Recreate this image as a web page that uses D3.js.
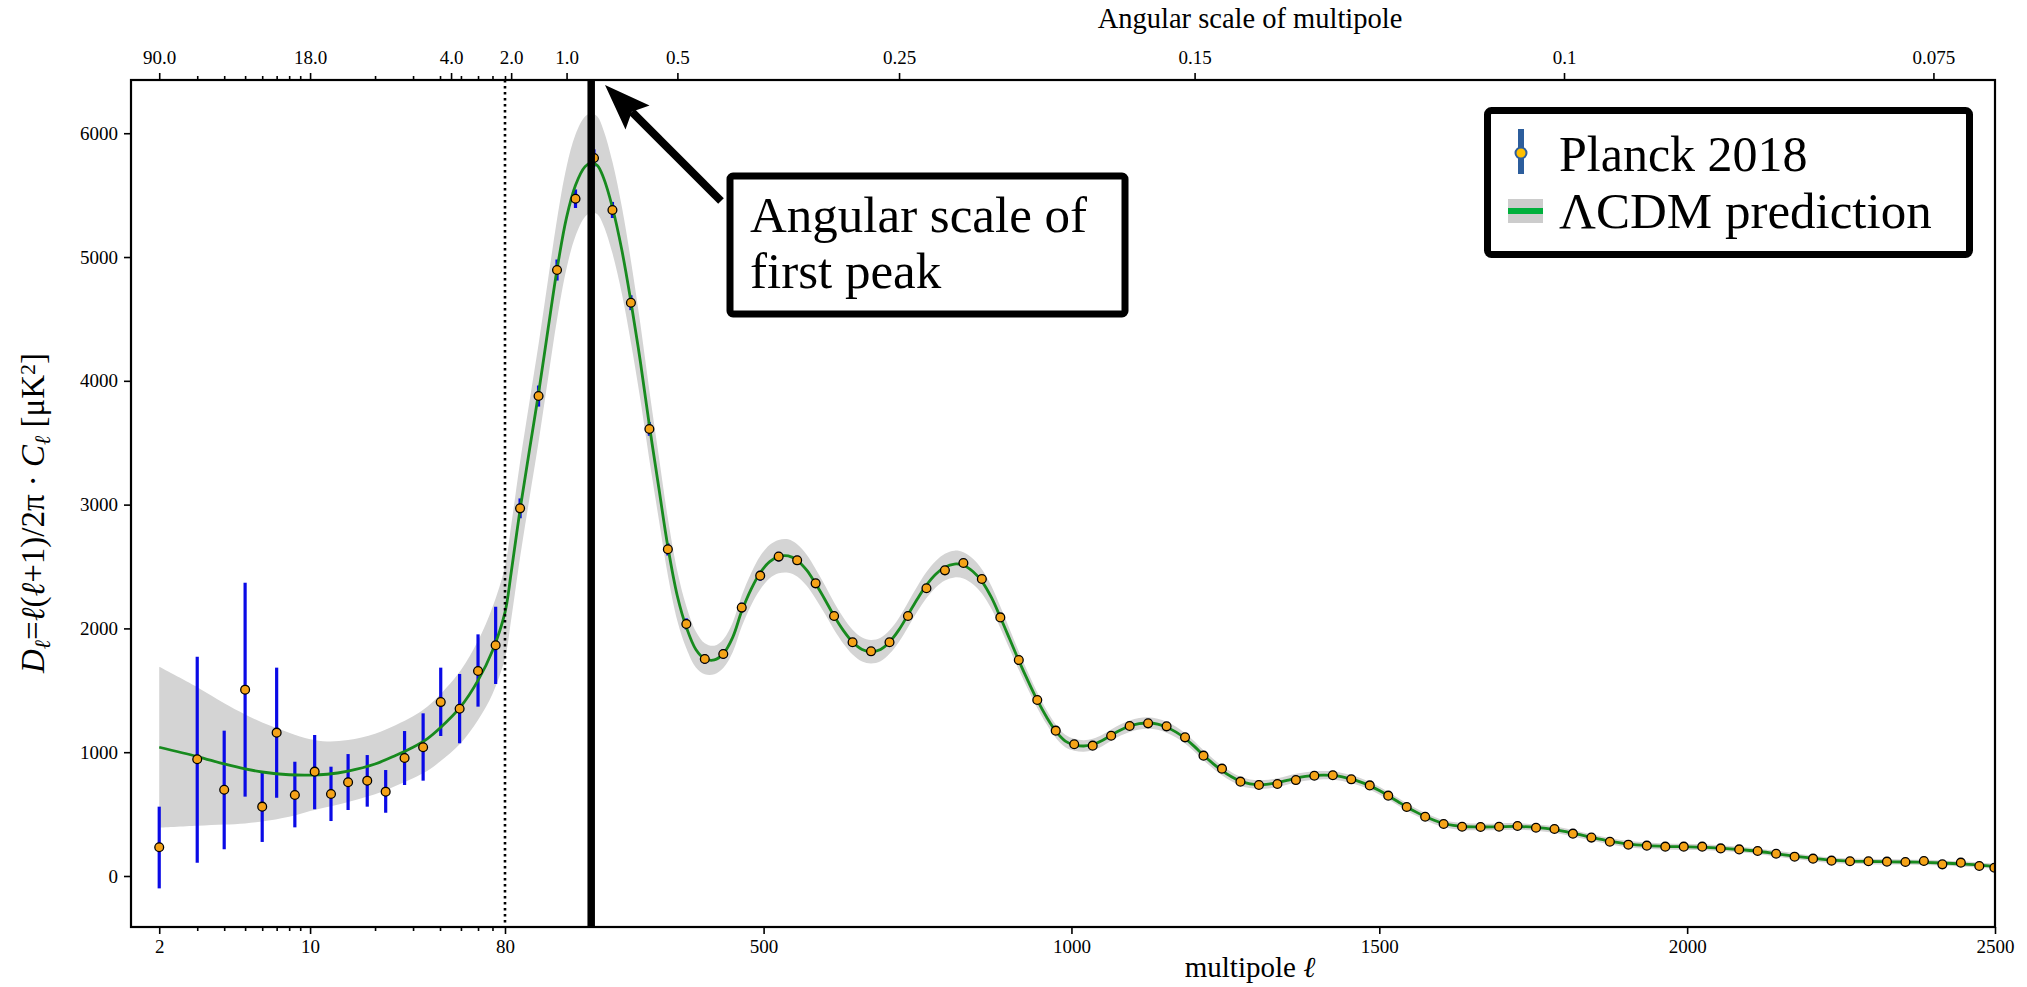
<!DOCTYPE html>
<html><head><meta charset="utf-8">
<script src="https://cdn.jsdelivr.net/npm/d3@7"></script>
<style>
body{margin:0;background:#fff}
svg{display:block}
text{font-family:"Liberation Serif","DejaVu Serif",serif;fill:#000}
</style>
</head><body>
<svg id="c" width="2027" height="987"></svg>
<script>
// ---------------- DATA ----------------
// low-ell Planck points (log region)
const lowEll = [2,3,4,5,6,7,8.5,10.5,12.5,15,18.4,22.4,27.4,33.4,40.3,49.3,60,72.4];
const lowD   = [232,943,697,1505,560,1158,654,843,662,757,770,681,953,1040,1405,1351,1656,1864];
const lowLo  = [-100,107,216,641,275,632,393,539,444,533,560,511,735,770,1131,1072,1368,1551];
const lowHi  = [560,1771,1174,2369,848,1683,923,1139,883,985,977,856,1171,1314,1683,1632,1952,2175];

// binned high-ell Planck points
const highEll = [104.5,134.5,164.5,194.5,224.5,254.5,284.5,314.5,344.5,374.5,404.5,434.5,464.5,494.5,524.5,554.5,584.5,614.5,644.5,674.5,
 704.5,734.5,764.5,794.5,824.5,854.5,884.5,914.5,944.5,974.5,1004.5,1034.5,1064.5,1094.5,1124.5,1154.5,1184.5,1214.5,1244.5,1274.5,
 1304.5,1334.5,1364.5,1394.5,1424.5,1454.5,1484.5,1514.5,1544.5,1574.5,1604.5,1634.5,1664.5,1694.5,1724.5,1754.5,1784.5,1814.5,1844.5,1874.5,
 1904.5,1934.5,1964.5,1994.5,2024.5,2054.5,2084.5,2114.5,2144.5,2174.5,2204.5,2234.5,2264.5,2294.5,2324.5,2354.5,2384.5,2414.5,2444.5,2474.5,2499];
const highD = [2970,3877,4895,5471,5800,5380,4631,3611,2639,2036,1753,1793,2168,2426,2580,2550,2364,2100,1888,1815,
 1888,2100,2324,2469,2528,2399,2089,1745,1422,1174,1064,1053,1133,1212,1233,1209,1120,972,867,762,
 735,743,775,810,814,781,732,649,557,479,420,398,396,398,404,390,380,342,310,277,
 253,245,237,237,237,223,215,202,180,156,140,124,119,119,116,113,121,94,108,81,67];
const highErr = [80,85,85,75,70,65,60,55,50,45,40,40,40,40,38,36,34,32,30,30,
 30,30,30,30,30,28,26,24,22,20,20,20,20,20,20,20,18,18,18,16,
 16,16,16,16,16,15,15,15,14,14,14,14,14,14,14,14,14,13,13,13,
 13,13,13,13,13,12,12,12,12,12,12,12,12,12,12,12,12,12,12,12,12];

// LCDM model curve and its band half-width
const modelEll = [2,3,4,5,6,8,10,12,15,20,25,30,35,40,50,60,70,80,
 90,104.5,120,134.5,150,164.5,180,194.5,210,220,230,240,254.5,270,284.5,300,314.5,330,344.5,360,374.5,390,404.5,420,434.5,450,464.5,480,494.5,510,524.5,540,554.5,570,584.5,600,614.5,630,644.5,660,674.5,690,
 704.5,720,734.5,750,764.5,780,794.5,810,824.5,840,854.5,870,884.5,900,914.5,930,944.5,960,974.5,990,1004.5,1020,1034.5,1050,1064.5,1080,1094.5,1110,1124.5,1140,1154.5,1170,1184.5,1200,1214.5,1230,1244.5,1260,1274.5,1290,
 1304.5,1320,1334.5,1350,1364.5,1380,1394.5,1410,1424.5,1440,1454.5,1470,1484.5,1500,1514.5,1530,1544.5,1560,1574.5,1590,1604.5,1620,1634.5,1664.5,1694.5,1724.5,1754.5,1784.5,1814.5,1844.5,1874.5,
 1904.5,1934.5,1964.5,1994.5,2024.5,2054.5,2084.5,2114.5,2144.5,2174.5,2204.5,2234.5,2264.5,2294.5,2324.5,2354.5,2384.5,2414.5,2444.5,2474.5,2500];
const modelD = [1040,965,905,865,840,818,815,822,848,905,975,1040,1110,1195,1370,1580,1820,2130,
 2450,2960,3450,3900,4420,4900,5320,5580,5730,5760,5740,5640,5400,5050,4640,4150,3640,3130,2660,2260,2010,1830,1755,1745,1795,1930,2140,2320,2450,2540,2580,2585,2550,2470,2360,2230,2100,1980,1890,1830,1812,1830,
 1890,1990,2110,2240,2350,2440,2495,2520,2510,2460,2380,2250,2090,1910,1740,1570,1420,1280,1170,1090,1060,1050,1062,1095,1138,1180,1210,1230,1236,1226,1202,1162,1112,1045,975,908,852,802,766,745,
 738,742,754,772,790,804,812,815,812,800,782,758,728,690,648,602,558,516,480,448,424,408,400,396,398,400,392,375,346,312,281,
 257,245,239,236,233,225,214,200,180,160,142,128,120,117,115,113,110,105,98,88,78];
const modelHW = [650,560,490,440,400,340,290,265,250,245,245,250,260,270,295,320,350,370,
 380,385,390,395,400,405,410,410,405,400,395,385,370,350,330,305,280,255,230,200,170,145,125,115,115,120,125,130,135,135,135,135,130,125,120,115,110,105,100,97,95,95,
 95,97,100,102,105,107,108,108,106,103,98,92,86,80,74,68,62,57,53,50,48,47,46,46,46,46,46,46,46,45,44,43,42,41,40,39,38,37,36,35,
 35,35,35,35,35,35,35,34,34,33,33,32,32,31,31,30,30,30,29,29,28,28,28,27,27,27,26,26,26,25,25,
 25,25,24,24,24,24,23,23,23,23,22,22,22,22,22,21,21,21,21,21,20];

// axis ticks
const botMajorLog = [2,10,80];
const botMajorLin = [500,1000,1500,2000,2500];
const minorLog = [3,4,5,6,7,8,9,20,30,40,50,60,70];
const topTickEll = [2,10,45,90,180,360,720,1200,1800,2400];
const topTickLabels = ["90.0","18.0","4.0","2.0","1.0","0.5","0.25","0.15","0.1","0.075"];
const topMinorLog = [3,4,5,6,7,8,9,20,30,40,50,60,70,80];
const yTicks = [0,1000,2000,3000,4000,5000,6000];
const peakEll = 220;

// ---------------- LAYOUT ----------------
const FONT = '"Liberation Serif","DejaVu Serif",serif';
const svg = d3.select('#c');
const L = 131, R = 1995, T = 80, B = 927, XB = 505;
const xLog = d3.scaleLog().domain([1.48, 80]).range([L, XB]);
const xLin = d3.scaleLinear().domain([80, 2500]).range([XB, R]);
const x = l => (l <= 80 ? xLog(l) : xLin(l));
const y = d3.scaleLinear().domain([-412, 6430]).range([B, T]);

svg.append('clipPath').attr('id','clip').append('rect')
  .attr('x', L).attr('y', T).attr('width', R - L).attr('height', B - T);
const plot = svg.append('g').attr('clip-path','url(#clip)');

const model = modelEll.map((l,i)=>({l, d:modelD[i], hw:modelHW[i]}));
const curve = d3.curveCatmullRom.alpha(0.5);

// band
plot.append('path').datum(model)
  .attr('d', d3.area().x(d=>x(d.l)).y0(d=>y(d.d-d.hw)).y1(d=>y(d.d+d.hw)).curve(curve))
  .attr('fill','#d4d4d4').attr('stroke','none');

// dotted line at ell=80
svg.append('line').attr('x1',x(80)).attr('x2',x(80)).attr('y1',T).attr('y2',B)
  .attr('stroke','#000').attr('stroke-width',2.6).attr('stroke-dasharray','2.6,3.4');

// error bars
const lowPts = lowEll.map((l,i)=>({l, d:lowD[i], lo:lowLo[i], hi:lowHi[i]}));
const highPts = highEll.map((l,i)=>({l, d:highD[i], lo:highD[i]-highErr[i], hi:highD[i]+highErr[i]}));
const pts = lowPts.concat(highPts);
plot.selectAll('line.err').data(pts).enter().append('line')
  .attr('x1',d=>x(d.l)).attr('x2',d=>x(d.l))
  .attr('y1',d=>y(d.lo)).attr('y2',d=>y(d.hi))
  .attr('stroke','#0a0ae6').attr('stroke-width',3.2);

// model curve
plot.append('path').datum(model)
  .attr('d', d3.line().x(d=>x(d.l)).y(d=>y(d.d)).curve(curve))
  .attr('fill','none').attr('stroke','#178a1e').attr('stroke-width',2.8);

// markers
plot.selectAll('circle.pt').data(pts).enter().append('circle')
  .attr('cx',d=>x(d.l)).attr('cy',d=>y(d.d)).attr('r',4.4)
  .attr('fill','#f5a318').attr('stroke','#000').attr('stroke-width',1.3);

// peak line
svg.append('line').attr('x1',x(peakEll)).attr('x2',x(peakEll)).attr('y1',T).attr('y2',B)
  .attr('stroke','#000').attr('stroke-width',7.5);

// ---------------- AXES ----------------
function styleAxis(g){
  g.select('.domain').remove();
  g.selectAll('.tick line').attr('stroke','#000').attr('stroke-width',1.6);
  g.selectAll('.tick text').attr('font-size',19).attr('font-family',FONT);
}
svg.append('g').attr('transform',`translate(0,${B})`)
  .call(d3.axisBottom(xLog).tickValues(botMajorLog).tickFormat(d3.format('d')).tickSize(7).tickPadding(6)).call(styleAxis);
svg.append('g').attr('transform',`translate(0,${B})`)
  .call(d3.axisBottom(xLin).tickValues(botMajorLin).tickFormat(d3.format('d')).tickSize(7).tickPadding(6)).call(styleAxis);
svg.append('g').attr('transform',`translate(0,${B})`)
  .call(d3.axisBottom(xLog).tickValues(minorLog).tickFormat('').tickSize(4)).call(styleAxis);

const topLog = topTickEll.filter(l=>l<=80), topLin = topTickEll.filter(l=>l>80);
const topFmt = l => topTickLabels[topTickEll.indexOf(l)];
svg.append('g').attr('transform',`translate(0,${T})`)
  .call(d3.axisTop(xLog).tickValues(topLog).tickFormat(topFmt).tickSize(7).tickPadding(9)).call(styleAxis);
svg.append('g').attr('transform',`translate(0,${T})`)
  .call(d3.axisTop(xLin).tickValues(topLin).tickFormat(topFmt).tickSize(7).tickPadding(9)).call(styleAxis);
svg.append('g').attr('transform',`translate(0,${T})`)
  .call(d3.axisTop(xLog).tickValues(topMinorLog).tickFormat('').tickSize(4)).call(styleAxis);

svg.append('g').attr('transform',`translate(${L},0)`)
  .call(d3.axisLeft(y).tickValues(yTicks).tickFormat(d3.format('d')).tickSize(7).tickPadding(6)).call(styleAxis);

// frame
svg.append('rect').attr('x',L).attr('y',T).attr('width',R-L).attr('height',B-T)
  .attr('fill','none').attr('stroke','#000').attr('stroke-width',2.2);

// axis titles
svg.append('text').attr('x',1250).attr('y',28).attr('text-anchor','middle').attr('font-size',28.5)
  .attr('font-family',FONT).text('Angular scale of multipole');
const xl = svg.append('text').attr('x',1250).attr('y',977).attr('text-anchor','middle').attr('font-size',29)
  .attr('font-family',FONT);
xl.append('tspan').text('multipole ');
xl.append('tspan').attr('font-style','italic').text('ℓ');

const yl = svg.append('text').attr('transform','translate(44,513) rotate(-90)')
  .attr('text-anchor','middle').attr('font-size',33).attr('font-family',FONT);
yl.append('tspan').attr('font-style','italic').text('D');
yl.append('tspan').attr('font-size',22).attr('baseline-shift','-25%').attr('font-style','italic').text('ℓ');
yl.append('tspan').text('=');
yl.append('tspan').attr('font-style','italic').text('ℓ');
yl.append('tspan').text('(');
yl.append('tspan').attr('font-style','italic').text('ℓ');
yl.append('tspan').text('+1)/2π · ');
yl.append('tspan').attr('font-style','italic').text('C');
yl.append('tspan').attr('font-size',22).attr('baseline-shift','-25%').attr('font-style','italic').text('ℓ');
yl.append('tspan').text(' [μK');
yl.append('tspan').attr('font-size',22).attr('baseline-shift','40%').text('2');
yl.append('tspan').text(']');

// ---------------- ANNOTATION ----------------
const ax0 = 721, ay0 = 201, ax1 = 605, ay1 = 85;
const ang = Math.atan2(ay1-ay0, ax1-ax0);
const headLen = 46, headHalf = 17;
const bx = ax1 - headLen*Math.cos(ang), by = ay1 - headLen*Math.sin(ang);
svg.append('line').attr('x1',ax0).attr('y1',ay0).attr('x2',bx+8*Math.cos(ang)).attr('y2',by+8*Math.sin(ang))
  .attr('stroke','#000').attr('stroke-width',8);
const px = -Math.sin(ang), py = Math.cos(ang);
svg.append('path').attr('d',`M${ax1},${ay1} L${bx+px*headHalf},${by+py*headHalf} L${bx+8*Math.cos(ang)},${by+8*Math.sin(ang)} L${bx-px*headHalf},${by-py*headHalf} Z`)
  .attr('fill','#000');

svg.append('rect').attr('x',730).attr('y',176).attr('width',395).attr('height',138).attr('rx',3)
  .attr('fill','#fff').attr('stroke','#000').attr('stroke-width',7);
svg.append('text').attr('x',750).attr('y',232).attr('font-size',51).attr('font-family',FONT).text('Angular scale of');
svg.append('text').attr('x',750).attr('y',288).attr('font-size',51).attr('font-family',FONT).text('first peak');

// ---------------- LEGEND ----------------
svg.append('rect').attr('x',1487.5).attr('y',110.5).attr('width',482).attr('height',144).attr('rx',4)
  .attr('fill','#fff').attr('stroke','#000').attr('stroke-width',7);
svg.append('line').attr('x1',1521).attr('x2',1521).attr('y1',129).attr('y2',174)
  .attr('stroke','#2c5d9c').attr('stroke-width',6);
svg.append('circle').attr('cx',1521).attr('cy',153).attr('r',5.5)
  .attr('fill','#ffbf00').attr('stroke','#2c5d9c').attr('stroke-width',2);
svg.append('text').attr('x',1559).attr('y',171).attr('font-size',50).attr('font-family',FONT).text('Planck 2018');
svg.append('rect').attr('x',1508).attr('y',199).attr('width',35).attr('height',24).attr('fill','#cccccc');
svg.append('rect').attr('x',1508).attr('y',208).attr('width',35).attr('height',6).attr('fill','#00b03c');
svg.append('text').attr('x',1559).attr('y',228).attr('font-size',51).attr('font-family',FONT).text('ΛCDM prediction');
</script>
</body></html>
